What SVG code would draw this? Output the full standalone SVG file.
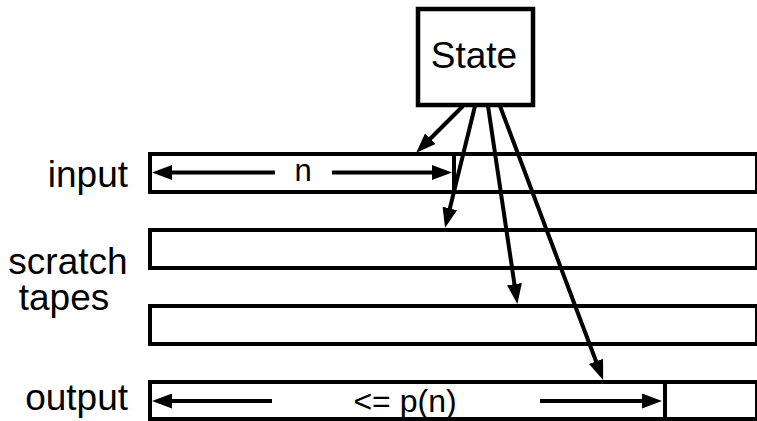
<svg xmlns="http://www.w3.org/2000/svg" width="757" height="421" viewBox="0 0 757 421">
<style>
.box{fill:#fff;stroke:#000;stroke-width:4.5}
.tape{fill:#fff;stroke:#000;stroke-width:4}
.ln{stroke:#000;stroke-width:4;fill:none}
.arr{stroke:#000;stroke-width:4;fill:none;marker-end:url(#ah)}
text{font-family:"Liberation Sans",Arial,sans-serif;fill:#000}
.lbl{font-size:37px}
.st{font-size:37px}
.sm{font-size:31px}
.sm2{font-size:32px}
</style>
<defs>
<marker id="ah" markerUnits="userSpaceOnUse" markerWidth="20" markerHeight="15" refX="14" refY="7.5" orient="auto">
<path d="M0,0 L20,7.5 L0,15 z" fill="#000"/>
</marker>
</defs>
<g id="labels">
<text class="lbl" x="128" y="187" text-anchor="end">input</text>
<text class="lbl" x="68" y="274" text-anchor="middle">scratch</text>
<text class="lbl" x="64" y="310" text-anchor="middle">tapes</text>
<text class="lbl" x="128" y="410" text-anchor="end">output</text>
</g>
<g id="input-tape">
<rect class="tape" x="150" y="154" width="607" height="38"/>
<line class="ln" x1="454" y1="154" x2="454" y2="192"/>
<line class="arr" x1="275" y1="172.5" x2="158" y2="172.5"/>
<line class="arr" x1="332" y1="172.5" x2="446" y2="172.5"/>
<text class="sm" x="303" y="181" text-anchor="middle">n</text>
</g>
<g id="scratch-tape-1">
<rect class="tape" x="150" y="230" width="607" height="38"/>
</g>
<g id="scratch-tape-2">
<rect class="tape" x="150" y="306" width="607" height="38"/>
</g>
<g id="output-tape">
<rect class="tape" x="150" y="382" width="607" height="37"/>
<line class="ln" x1="665" y1="382" x2="665" y2="419"/>
<line class="arr" x1="272" y1="401" x2="158" y2="401"/>
<line class="arr" x1="540" y1="401" x2="656" y2="401"/>
<text class="sm2" x="405" y="412" text-anchor="middle">&lt;= p(n)</text>
</g>
<g id="connectors">
<line class="arr" x1="463" y1="106" x2="420.5" y2="148.5"/>
<line class="arr" x1="475" y1="106" x2="446.5" y2="222"/>
<line class="arr" x1="488" y1="106" x2="516.5" y2="298"/>
<line class="arr" x1="500" y1="106" x2="601" y2="374.5"/>
</g>
<g id="state">
<rect class="box" x="418" y="9" width="115" height="96"/>
<text class="st" x="474" y="68" text-anchor="middle">State</text>
</g>
</svg>
